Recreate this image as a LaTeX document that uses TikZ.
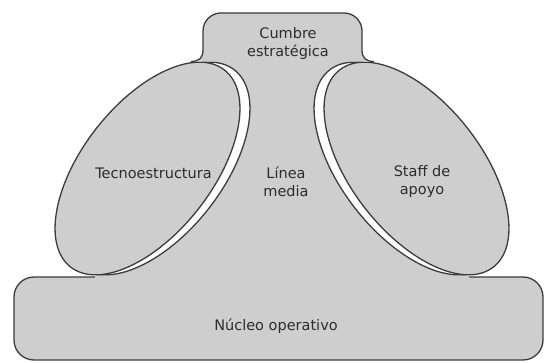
\documentclass[tikz,border=0pt]{standalone}
\usepackage{fontspec}
\newfontfamily\labfont{DejaVu Sans}
\definecolor{gfill}{RGB}{206,206,206}
\definecolor{gline}{RGB}{60,60,60}
\definecolor{gtext}{RGB}{45,45,45}
\begin{document}
\begin{tikzpicture}[x=1pt,y=1pt,
  part/.style={fill=gfill,draw=gline,line width=1.3pt},
  gapline/.style={fill=white,draw=gline,line width=1.3pt},
  lab/.style={font=\labfont\fontsize{14.5}{18}\selectfont,text=gtext,align=center,inner sep=0pt}]
\useasboundingbox (0,0) rectangle (545,363);
% operating core
\path[part,rounded corners=20pt] (14,3) rectangle (543,86);
% middle line trunk with white crescents
\begin{scope}
\clip (203,323) -- (362,323) -- (362,305) -- (416.5,194.5) -- (469,86) -- (469,73) -- (95,73) -- (95,86) -- (147.5,194.5) -- (203,305) -- cycle;
\fill[gfill] (90,70) rectangle (475,330);
\path[gapline] (157.5,194.5) ellipse [x radius=125pt, y radius=65pt, rotate=52];
\path[gapline] (406.5,194.5) ellipse [x radius=125pt, y radius=65pt, rotate=-52];
\end{scope}
% technostructure and support staff
\path[part] (147.5,194.5) ellipse [x radius=125pt, y radius=65pt, rotate=52];
\path[part] (416.5,194.5) ellipse [x radius=125pt, y radius=65pt, rotate=-52];
% strategic apex
\path[part] (191,301.5) .. controls (199,301.5) and (203,305) .. (203,313) -- (203,332)
  arc[start angle=180,end angle=90,radius=18pt] -- (344,350)
  arc[start angle=90,end angle=0,radius=18pt] -- (362,313)
  .. controls (362,305) and (366,301.5) .. (374,301.5);
% labels
\node[lab] (cumbre) at (288,319) {Cumbre\\estratégica};
\node[lab] (tecno) at (153.5,189.5) {Tecnoestructura};
\node[lab] (linea) at (286,181.5) {Línea\\media};
\node[lab] (staff) at (422,181) {Staff de\\apoyo};
\node[lab] (nucleo) at (276,36.5) {Núcleo operativo};
\end{tikzpicture}
\end{document}
